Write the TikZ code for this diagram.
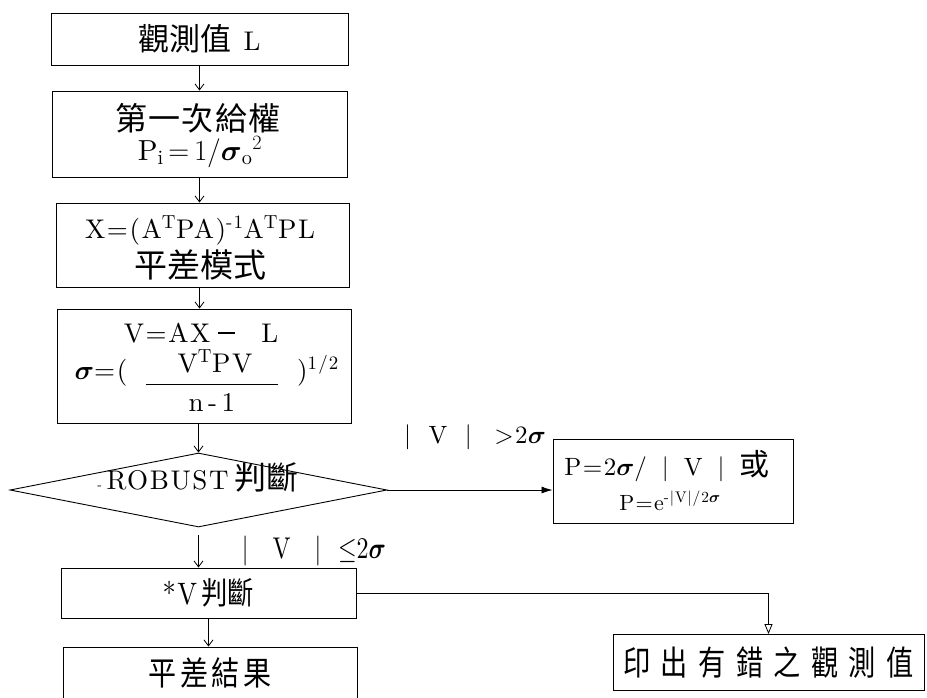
\RequirePackage{fix-cm}
\documentclass[tikz,border=0pt]{standalone}
\usepackage{amsmath}
\usepackage{fontspec}
\usepackage{graphicx}
\usetikzlibrary{arrows.meta,shapes.geometric}
\setmainfont{lmroman10-regular.otf}[LetterSpace=6]
\newfontfamily\cjk{Noto Sans CJK TC}
\newcommand\fs[1]{\fontsize{#1}{#1}\selectfont}
\newcommand\bsig{\ensuremath{\boldsymbol{\sigma}}}
\tikzset{
  boxs/.style={draw, rectangle, line width=0.9pt, inner sep=0pt},
  txt/.style={inner sep=0pt},
  btxt/.style={inner sep=0pt, anchor=base},
  arr/.style={-{Straight Barb[length=6pt,width=9pt]}, line width=0.8pt},
  arrf/.style={-{Latex[length=11pt,width=7pt]}, line width=0.8pt},
  arro/.style={-{Triangle[open,length=10pt,width=8pt]}, line width=0.8pt},
}
\begin{document}
\begin{tikzpicture}[x=1pt,y=-1pt]
\useasboundingbox (0,0) rectangle (927,697);
\fill[white] (0,0) rectangle (927,697);

% box 1
\node[boxs, minimum width=297pt, minimum height=52pt] (b1) at (199.5,39)
  {{\cjk\fs{31}觀測值}\hspace{12pt}{\fs{27}L}};

% box 2
\node[boxs, minimum width=295pt, minimum height=86pt] (b2) at (199.5,134) {};
\node[txt, font=\cjk\fs{32}] (t2a) at (198,118) {第\hspace{1.5pt}一\hspace{1.5pt}次\hspace{1.5pt}給\hspace{1.5pt}權};
\node[btxt, font=\fs{29}] (t2b) at (200,160) {$\mathrm{P_i}\,{=}\,1/\boldsymbol{\sigma}_{\mathrm{o}}{}^{2}$};

% box 3
\node[boxs, minimum width=293pt, minimum height=84pt] (b3) at (202.5,245) {};
\node[btxt, font=\fs{27}] (t3a) at (200,238) {X=(A\textsuperscript{T}PA)\textsuperscript{-1}A\textsuperscript{T}PL};
\node[txt, font=\cjk\fs{33}] (t3b) at (200,265) {平差模式};

% box 4
\node[boxs, minimum width=294pt, minimum height=114pt] (b4) at (204,366) {};
\node[btxt, font=\fs{27}] (t4a) at (201,342) {V=AX\hspace{8pt}\rule[8.5pt]{17pt}{1.1pt}\hspace{26pt}L};
\node[btxt, font=\fs{27}] (t4s) at (101,379) {\bsig=(};
\node[btxt, font=\fs{27}] (t4num) at (215,372) {V\textsuperscript{T}PV};
\node[fill=black, inner sep=0pt, minimum width=132pt, minimum height=0.9pt] (t4bar) at (212,384) {};
\node[btxt, font=\fs{27}] (t4den) at (212,411) {n\,-\,1};
\node[btxt, font=\fs{27}] (t4e) at (318,379) {)\textsuperscript{1/2}};

% diamond
\node[draw, diamond, line width=0.9pt, inner sep=0pt, minimum width=377pt, minimum height=74pt] (dia) at (198.5,490) {};
\node[btxt, font=\fs{27}] (tdia) at (198,489) {{\fs{14}-}\,ROBUST\hspace{6pt}{\cjk\fs{32}判斷}};

% P box
\node[boxs, minimum width=240pt, minimum height=84pt] (pb) at (673,481) {};
\node[btxt, font=\fs{25}] (tp1) at (667,475) {P=2\bsig/\hspace{0.6em}\textbar\hspace{0.6em}V\hspace{0.6em}\textbar\hspace{0.6em}{\cjk\fs{30}或}};
\node[btxt, font=\fs{22}] (tp2) at (670,510) {P=e\textsuperscript{-|V|/2\bsig}};

% label >
\node[btxt, font=\fs{25}] (lgt) at (475,443) {\textbar\hspace{0.7em}V\hspace{0.7em}\textbar\hspace{0.9em}>2\bsig};

% *V box
\node[boxs, minimum width=295pt, minimum height=50pt] (vj) at (208.5,593)
  {\scalebox{0.85}[1]{\fs{31}*V\,{\cjk\fs{31}判斷}}};

% result box
\node[boxs, minimum width=294pt, minimum height=52pt] (res) at (210,673)
  {\scalebox{0.85}[1]{\cjk\fs{33}平\hspace{4pt}差\hspace{4pt}結\hspace{4pt}果}};

% error box
\node[boxs, minimum width=311pt, minimum height=56pt] (err) at (768.5,662.5)
  {\scalebox{0.8}[1]{\cjk\fs{34}印\hspace{13pt}出\hspace{13pt}有\hspace{13pt}錯\hspace{13pt}之\hspace{13pt}觀\hspace{13pt}測\hspace{13pt}值}};

% label <=
\node[btxt, font=\fs{30}] (lle) at (314,558)
  {\scalebox{0.8}[1]{\textbar\hspace{1em}V\hspace{1em}\textbar\hspace{0.7em}$\le$2\bsig}};

% connectors
\draw[arr] (b1.south) -- (b2.north);
\draw[arr] (b2.south) -- (b2.south |- b3.north);
\draw[arr] (b3.south -| b2.south) -- (b2.south |- b4.north);
\draw[arr] (dia.north |- b4.south) -- (dia.north);
\draw[arrf] (dia.east) -- (dia.east -| pb.west);
\draw[arr, shorten <=8pt] (dia.south) -- (dia.south |- vj.north);
\draw[arr] (vj.south) -- (vj.south |- res.north);
\draw[arro] (vj.east) -| (err.north);
\end{tikzpicture}
\end{document}
